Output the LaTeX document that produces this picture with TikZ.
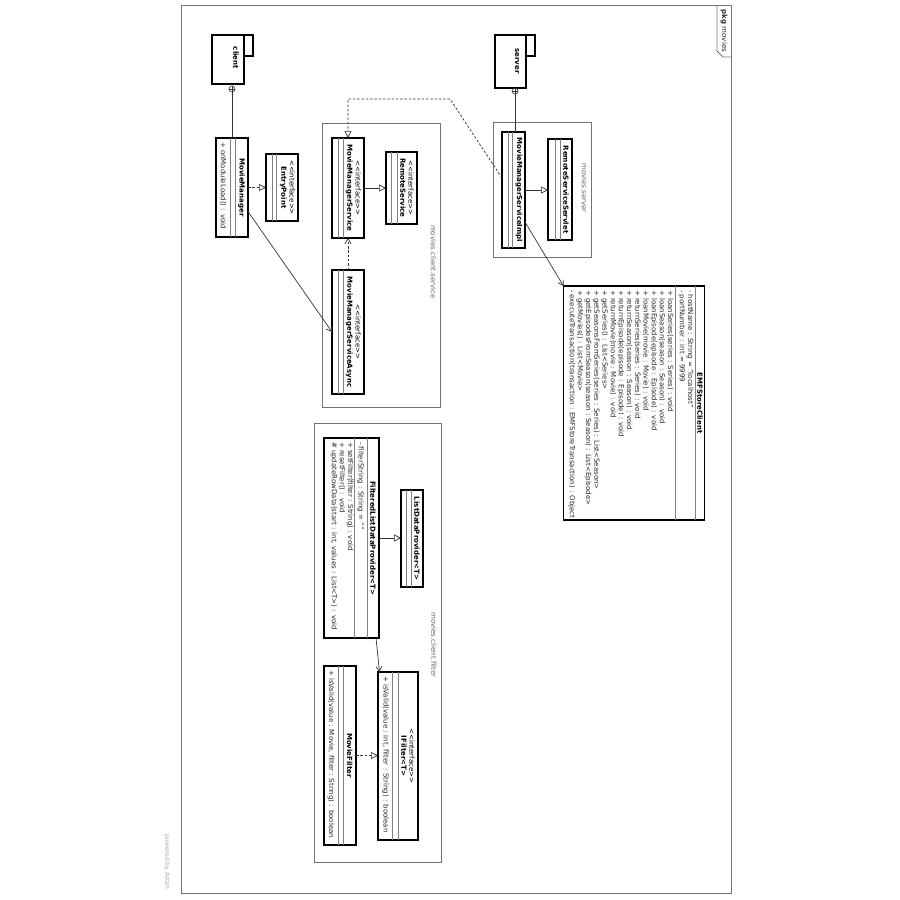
\documentclass[tikz,border=0pt]{standalone}
\usepackage{fontspec}
\setmainfont{DejaVu Sans}
\usetikzlibrary{arrows.meta}

\newcommand{\stereo}[1]{<\kern0pt<#1>\kern0pt>}

\tikzset{
  umltext/.style={rotate=-90, inner sep=0pt, outer sep=0pt,
    font=\fontsize{7}{8.2}\selectfont, text=black!85},
  umlname/.style={umltext, align=center, text=black},
  umlbox/.style={draw=black, line width=1.2pt, inner sep=0pt, outer sep=0pt, anchor=north west},
  umlsep/.style={draw=black!50, line width=0.6pt},
  frame/.style={draw=black!55, line width=0.8pt},
  pkglabel/.style={umltext, text=black!60},
  conn/.style={draw=black!80, line width=0.7pt},
  realize/.style={conn, dash pattern=on 2.5pt off 1.8pt, -{Triangle[open, length=7pt, width=7pt]}},
  general/.style={conn, -{Triangle[open, length=7pt, width=7pt]}},
  assoc/.style={conn, -{Straight Barb[length=5pt, width=6pt]}},
  depend/.style={conn, dash pattern=on 2.5pt off 1.8pt, -{Straight Barb[length=5pt, width=6pt]}},
  nest/.style={circle, draw=black!80, line width=0.6pt, minimum size=6pt, inner sep=0pt},
}

\begin{document}
\begin{tikzpicture}[x=1pt, y=-1pt]
    \useasboundingbox (0,0) rectangle (900,900);

    %----- FRAME -----
    \draw[frame] (181,5) rectangle (731,893);
    \draw[frame] (717,5) -- (717,51) -- (723,57) -- (731,57);
    \node[umltext] (pkgname) at (724,31) {\textbf{pkg} movies};

    %----- PACKAGE FRAMES -----
    \draw[frame] (322,123) rectangle (440.5,407);
    \node[pkglabel] (svclabel) at (433.5,262) {movies.client.service};
    \draw[frame] (493,122) rectangle (591,257);
    \node[pkglabel] (srvlabel) at (584.5,188) {movies.server};
    \draw[frame] (314,423) rectangle (441,862);
    \node[pkglabel] (fltlabel) at (434,645) {movies.client.filter};

    %----- CLIENT AND SERVER -----
    \node[umlbox, minimum width=32pt, minimum height=49pt] (client) at (212,35) {};
    \draw[draw=black, line width=1.2pt] (client.north east) rectangle ++(9,21);
    \node[umlname] (clientname) at (236,58) {\textbf{client}};
    \node[nest] (cn) at (232,89) {};
    \draw[conn] (cn.north) -- (cn.south) (cn.west) -- (cn.east);

    \node[umlbox, minimum width=31pt, minimum height=53pt] (server) at (495,35) {};
    \draw[draw=black, line width=1.2pt] (server.north east) rectangle ++(9,21);
    \node[umlname] (servername) at (517,61) {\textbf{server}};
    \node[nest] (sn) at (515,91) {};
    \draw[conn] (sn.north) -- (sn.south) (sn.west) -- (sn.east);

    %----- CLASS BOXES -----
    \node[umlbox, minimum width=32pt, minimum height=99pt]  (mm)      at (216,138) {};
    \node[umlbox, minimum width=32pt, minimum height=67pt]  (ep)      at (266,154) {};
    \node[umlbox, minimum width=32pt, minimum height=100pt] (mms)     at (332,138) {};
    \node[umlbox, minimum width=31pt, minimum height=72pt]  (rs)      at (386,152) {};
    \node[umlbox, minimum width=32pt, minimum height=124pt] (msa)     at (332,270) {};
    \node[umlbox, minimum width=23pt, minimum height=116pt] (impl)    at (502,132) {};
    \node[umlbox, minimum width=24pt, minimum height=101pt] (servlet) at (548,139) {};
    \node[umlbox, minimum width=141pt, minimum height=234pt] (emf)    at (563.5,286) {};
    \node[umlbox, minimum width=55pt, minimum height=200pt] (fl)      at (324,438) {};
    \node[umlbox, minimum width=22pt, minimum height=97pt]  (ldp)     at (401,490) {};
    \node[umlbox, minimum width=40pt, minimum height=168pt] (ifl)     at (378,672) {};
    \node[umlbox, minimum width=32pt, minimum height=179pt] (mf)      at (324,666) {};

    % compartment lines, measured from the left side of each box
    \foreach \n/\a/\b in {mm/14/19, ep/6/10.7, mms/6.3/11, rs/5.7/11.3, msa/6.3/11,
        impl/6.3/10.7, servlet/7/12, emf/111.5/131.5, fl/30/43, ldp/5.7/10,
        ifl/14.7/20.3, mf/14.3/19.3}
        \draw[umlsep] ([xshift=\a pt]\n.north west) -- ([xshift=\a pt]\n.south west)
                      ([xshift=\b pt]\n.north west) -- ([xshift=\b pt]\n.south west);

    %----- CLASS TEXTS -----
    \node[umlname] (mmname) at (241.5,187.5) {\textbf{MovieManager}};
    \node[umltext, anchor=west] (mmops) at (223,142) {+ onModuleLoad() : void};

    \node[umlname] (epname) at (287.5,187.5) {\stereo{interface}\\\textbf{EntryPoint}};
    \node[umlname] (mmsname) at (353.5,188) {\stereo{interface}\\\textbf{MovieManagerService}};
    \node[umlname] (rsname) at (407,188) {\stereo{interface}\\\textbf{RemoteService}};
    \node[umlname] (msaname) at (353.5,332) {\stereo{interface}\\\textbf{MovieManagerServiceAsync}};

    \node[umlname] (implname) at (519,190) {\textbf{MovieManagerServiceImpl}};
    \node[umlname] (servletname) at (566,189.5) {\textbf{RemoteServiceServlet}};

    \node[umlname] (emfname) at (700,403) {\textbf{EMFStoreClient}};
    \node[umltext, anchor=north west, align=left] (emfattr) at (693.5,290)
        {- hostName : String = "localhost"\\- portNumber : int = 9999};
    \node[umltext, anchor=north west, align=left] (emfops) at (673.5,290)
        {+ loanSeries(series : Series) : void\\
         + loanSeason(season : Season) : void\\
         + loanEpisode(episode : Episode) : void\\
         + loanMovie(movie : Movie) : void\\
         + returnSeries(series : Series) : void\\
         + returnSeason(season : Season) : void\\
         + returnEpisode(episode : Episode) : void\\
         + returnMovie(movie : Movie) : void\\
         + getSeries() : List<Series>\\
         + getSeasonsFromSeries(series : Series) : List<Season>\\
         + getEpisodesFromSeason(season : Season) : List<Episode>\\
         + getMovies() : List<Movie>\\
         - executeTransaction(transaction : EMFStoreTransaction) : Object};

    \node[umlname] (flname) at (373,538) {\textbf{FilteredListDataProvider<T>}};
    \node[umltext, anchor=west] (flattr) at (360.5,442) {- filterString : String = ""};
    \node[umltext, anchor=north west, align=left] (flops) at (353.5,442)
        {+ setFilter(filter : String) : void\\
         + resetFilter() : void\\
         \# updateRowData(start : int, values : List<T>) : void};

    \node[umlname] (ldpname) at (417,538.5) {\textbf{ListDataProvider<T>}};

    \node[umlname] (iflname) at (408,756) {\stereo{interface}\\\textbf{IFilter<T>}};
    \node[umltext, anchor=west] (iflops) at (385.5,676) {+ isValid(value : int, filter : String) : boolean};

    \node[umlname] (mfname) at (349.7,755.5) {\textbf{MovieFilter}};
    \node[umltext, anchor=west] (mfops) at (331,670) {+ isValid(value : Movie, filter : String) : boolean};

    %----- CONNECTORS -----
    \draw[conn] (cn.south) -- (cn.south |- mm.north);
    \draw[conn] (sn.south) -- (sn.south |- impl.north);

    \draw[realize] (mm.east) -- (mm.east -| ep.west);
    \draw[assoc] ([yshift=-24pt]mm.east) -- (msa.west);
    \draw[general] (mms.east) -- (mms.east -| rs.west);
    \draw[depend] (msa.north) -- (mms.south);

    \coordinate (bend) at (450,99);
    \draw[realize] ([yshift=12pt]impl.west) -- (bend) -- (bend -| mms.north) -- (mms.north);
    \draw[general] (impl.east) -- (impl.east -| servlet.west);
    \draw[assoc] ([yshift=-32pt]impl.east) -- (emf.north west);

    \draw[general] (fl.east) -- (fl.east -| ldp.west);
    \draw[assoc] ([xshift=24.5pt]fl.south) -- ([xshift=1.5pt]ifl.north west);
    \draw[realize] (mf.east) -- (mf.east -| ifl.west);

    %----- WATERMARK -----
    \node[umltext, font=\fontsize{6}{7}\selectfont, text=black!35] (astah) at (167,862) {powered by Astah};

\end{tikzpicture}
\end{document}
